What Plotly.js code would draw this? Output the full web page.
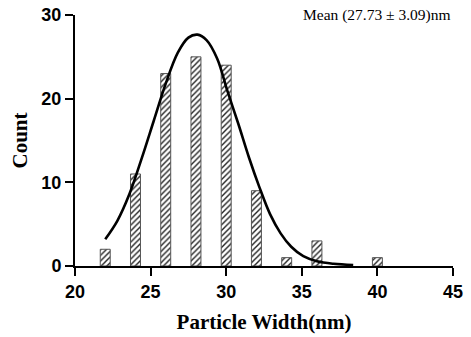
<!DOCTYPE html>
<html>
<head>
<meta charset="utf-8">
<script src="https://cdn.plot.ly/plotly-3.0.1.min.js"></script>
<style>html,body{margin:0;padding:0;background:#fff;}#chart{width:471px;height:337px;}</style>
</head>
<body>
<div id="chart"></div>
<script>
// Histogram bins (particle width, nm) and counts
const binCenters = [22, 24, 26, 28, 30, 32, 34, 36, 40];
const counts     = [2, 11, 23, 25, 24, 9, 1, 3, 1];

// Fitted curve, points
const curveX = [22.0, 22.8, 23.6, 24.4, 25.2, 26.0, 26.8, 27.5, 28.1, 28.7, 29.4, 30.1, 30.8, 31.5, 32.2, 32.9, 33.6, 34.3, 35.1, 36.0, 37.1, 38.4];
const curveY = [3.2, 5.4, 8.6, 12.8, 17.3, 21.8, 25.5, 27.3, 27.65, 27.0, 24.8, 20.8, 17.0, 13.0, 9.4, 6.2, 3.9, 2.3, 1.17, 0.56, 0.26, 0.12];

const xTicks = [20, 25, 30, 35, 40, 45];
const yTicks = [0, 10, 20, 30];
const meanLabel = 'Mean (27.73 ± 3.09)nm';
const xTitle = 'Particle Width(nm)';
const yTitle = 'Count';

const traces = [
  {
    type: 'bar',
    x: binCenters,
    y: counts,
    width: 0.66,
    marker: {
      color: '#ffffff',
      line: {color: '#555555', width: 1},
      pattern: {shape: '/', fgcolor: '#222222', bgcolor: '#ffffff', size: 4, solidity: 0.35}
    },
    hoverinfo: 'skip'
  },
  {
    type: 'scatter',
    mode: 'lines',
    x: curveX,
    y: curveY,
    line: {color: '#000000', width: 2.6, shape: 'spline', smoothing: 1},
    hoverinfo: 'skip'
  }
];

const tickFont = {family: 'Liberation Sans, Arial, sans-serif', size: 18, color: '#000', weight: 'bold'};
const titleFont = {family: 'Liberation Serif, Times New Roman, serif', size: 21, color: '#000', weight: 'bold'};

const layout = {
  width: 471, height: 337,
  margin: {l: 75, r: 18, t: 15, b: 70.5},
  paper_bgcolor: '#fff', plot_bgcolor: '#fff',
  showlegend: false,
  bargap: 0,
  xaxis: {
    range: [20, 45],
    tickvals: xTicks,
    ticktext: xTicks.map(String),
    showgrid: false, zeroline: false,
    showline: true, linecolor: '#000', linewidth: 2,
    ticks: 'outside', ticklen: 8, tickwidth: 2, tickcolor: '#000',
    tickfont: tickFont,
    title: {text: xTitle, font: titleFont, standoff: 14}
  },
  yaxis: {
    range: [0, 30],
    tickvals: yTicks,
    ticktext: yTicks.map(String),
    showgrid: false, zeroline: false,
    showline: true, linecolor: '#000', linewidth: 2,
    ticks: 'outside', ticklen: 8, tickwidth: 2, tickcolor: '#000',
    tickfont: tickFont,
    title: {text: yTitle, font: titleFont, standoff: 8}
  },
  annotations: [{
    text: meanLabel,
    xref: 'paper', yref: 'paper',
    x: 1, y: 1.0, xanchor: 'right', yanchor: 'middle',
    showarrow: false,
    font: {family: 'Liberation Serif, Times New Roman, serif', size: 15.5, color: '#000'}
  }]
};

Plotly.newPlot('chart', traces, layout, {displayModeBar: false, staticPlot: true});
</script>
</body>
</html>
